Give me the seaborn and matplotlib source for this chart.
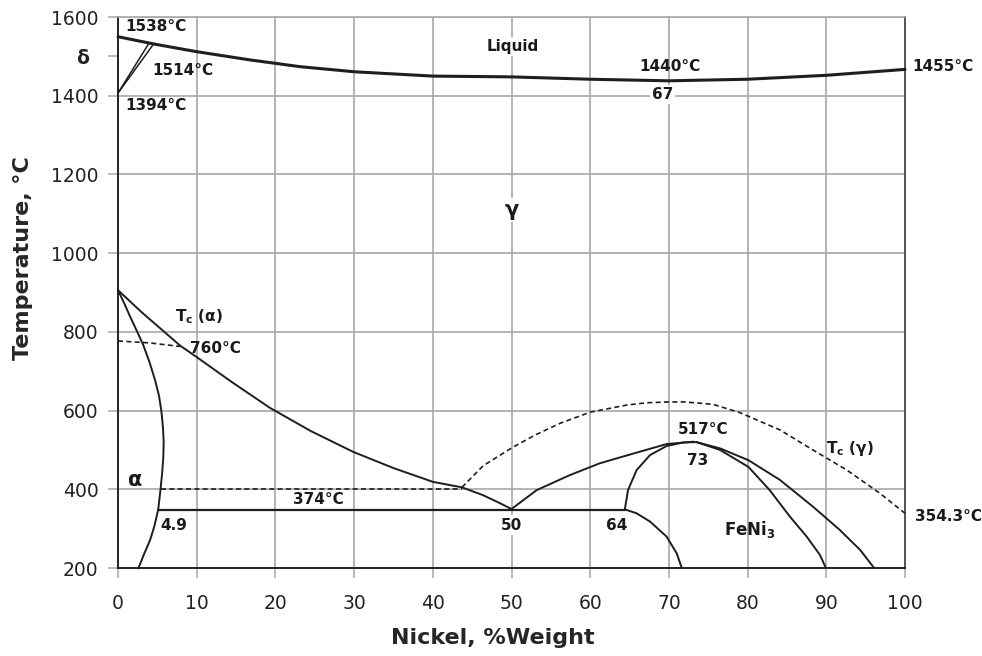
import matplotlib
matplotlib.use("Agg")
import matplotlib.pyplot as plt
import seaborn as sns
import pandas as pd

# ---- data (Ni wt%, temperature °C) ----
liquidus_ni = [0, 4.7, 10, 16.8, 23.1, 30, 40, 50, 60, 70, 80, 90, 100]
liquidus_t = [1550, 1531, 1512, 1491, 1474, 1461, 1450, 1448, 1442, 1438, 1442, 1452, 1467]

delta1_ni = [0, 3.85]
delta1_t = [1407, 1531]
delta2_ni = [0, 4.5]
delta2_t = [1407, 1531]

gamma_solvus_ni = [0, 3.0, 7.9, 10, 14.5, 19.3, 24.5, 29.9, 35, 40, 43.7, 46.4, 48.5, 50]
gamma_solvus_t = [906, 850, 765, 736, 672, 607, 548, 495, 454, 419, 405, 385, 365, 350]

alpha_solvus_ni = [0, 0.8, 1.6, 2.4, 3.2, 4.0, 4.7, 5.2, 5.5, 5.7, 5.8, 5.75, 5.6, 5.4, 5.1, 4.6, 4.07, 3.3, 2.58]
alpha_solvus_t = [906, 872, 836, 802, 767, 723, 678, 638, 600, 560, 520, 480, 440, 400, 348, 305, 271, 235, 199]

tc_alpha_ni = [0, 4, 7.9]
tc_alpha_t = [777, 772, 763]

dash400_ni = [5.5, 43.7]
dash400_t = [402, 402]

tc_gamma_ni = [43.7, 46.4, 50, 53, 56.2, 60, 64.6, 67.2, 70, 72, 75.6, 79, 84.1, 88.3, 92.6, 96.8, 100]
tc_gamma_t = [405, 460, 505, 538, 568, 596, 614, 620, 622, 622, 616, 595, 551, 500, 449, 390, 339]

eutectoid_ni = [5.1, 64.4]
eutectoid_t = [348, 348]

gamma_feni3_ni = [50, 53.2, 57.4, 61.2, 65.5, 69.7, 73.1]
gamma_feni3_t = [350, 398, 436, 466, 491, 515, 521]

feni3_left_ni = [64.4, 64.8, 65.9, 67.6, 69.7, 71.8, 73.5]
feni3_left_t = [349, 398, 449, 487, 510, 519, 520]

feni3_low_ni = [64.4, 65.9, 67.6, 69.7, 71.0, 71.6]
feni3_low_t = [349, 339, 318, 280, 237, 202]

feni3_inner_ni = [73.5, 76.5, 80.1, 82.8, 85.4, 87.5, 89.2, 89.9]
feni3_inner_t = [520, 500, 457, 398, 330, 280, 233, 202]

feni3_outer_ni = [73.5, 76.5, 80.1, 84.1, 88.3, 91.7, 94.3, 96.0]
feni3_outer_t = [520, 504, 474, 424, 356, 297, 246, 202]

x_ticks = list(range(0, 101, 10))
y_ticks = list(range(200, 1601, 200))

sns.set_theme(style="white")
plt.rcParams['font.family'] = ['DejaVu Sans']
plt.rcParams['mathtext.fontset'] = 'dejavusans'

fig = plt.figure(figsize=(9.82, 6.56), dpi=100)
ax = fig.add_axes([0.1202, 0.1341, 0.8014, 0.8399])

LC = '#1e1e1e'
GC = '#a8a8a8'


def curve(xs, ys, lw=1.4, dashed=False):
    df = pd.DataFrame({'ni': xs, 't': ys})
    line = sns.lineplot(data=df, x='ni', y='t', sort=False, estimator=None,
                        color=LC, lw=lw, ax=ax, zorder=3)
    if dashed:
        line.lines[-1].set_dashes((3, 2))
    line.lines[-1].set_clip_on(False)


curve(liquidus_ni, liquidus_t, lw=2.2)
curve(delta1_ni, delta1_t, lw=1.1)
curve(delta2_ni, delta2_t, lw=1.1)
curve(gamma_solvus_ni, gamma_solvus_t)
curve(alpha_solvus_ni, alpha_solvus_t)
curve(tc_alpha_ni, tc_alpha_t, lw=1.2, dashed=True)
curve(dash400_ni, dash400_t, lw=1.2, dashed=True)
curve(tc_gamma_ni, tc_gamma_t, lw=1.2, dashed=True)
curve(eutectoid_ni, eutectoid_t, lw=1.6)
curve(gamma_feni3_ni, gamma_feni3_t)
curve(feni3_left_ni, feni3_left_t)
curve(feni3_low_ni, feni3_low_t)
curve(feni3_inner_ni, feni3_inner_t)
curve(feni3_outer_ni, feni3_outer_t)

ax.set_xlim(0, 100)
ax.set_ylim(200, 1600)
ax.set_xticks(x_ticks)
ax.set_yticks(y_ticks)
ax.set_yticks([1500], minor=True)
ax.set_yticklabels(['δ'], minor=True, fontweight='bold', fontsize=15)
ax.tick_params(axis='both', which='both', direction='out', length=7, width=1.1,
               color=GC, labelsize=13.5, labelcolor='#222222', left=True, bottom=True)
ax.tick_params(axis='x', pad=12)
ax.tick_params(axis='y', which='major', pad=7)
ax.tick_params(axis='y', which='minor', pad=14)
ax.grid(True, which='major', color=GC, lw=1.2)
ax.set_axisbelow(True)

for side in ['left', 'bottom']:
    ax.spines[side].set_color('#222222')
    ax.spines[side].set_linewidth(1.4)
ax.spines['right'].set_color('#555555')
ax.spines['right'].set_linewidth(1.4)
ax.spines['top'].set_color(GC)
ax.spines['top'].set_linewidth(1.2)

ax.set_xlabel('Nickel, %Weight', fontsize=16, fontweight='bold')
ax.set_ylabel('Temperature, °C', fontsize=16, fontweight='bold')
ax.xaxis.set_label_coords(0.476, -0.108)
ax.yaxis.set_label_coords(-0.108, 0.5626)

fs = 11
box = dict(facecolor='white', edgecolor='none', pad=1.5)


def lab(x, y, s, ha='left', bg=False, size=fs):
    ax.text(x, y, s, ha=ha, va='center', fontsize=size, fontweight='bold', color='#1a1a1a',
            bbox=box if bg else None, zorder=4, clip_on=False)


lab(0.9, 1575, '1538°C')
lab(4.3, 1465, '1514°C')
lab(0.9, 1376, '1394°C')
lab(50.2, 1526, 'Liquid', ha='center', bg=True)
lab(70.1, 1475, '1440°C', ha='center')
lab(69.2, 1404, '67', ha='center', bg=True)
lab(100.9, 1475, '1455°C')
lab(50, 1110, 'γ', ha='center', bg=True, size=15)
lab(7.2, 838, r'$\mathbf{T}_{\mathbf{c}}$ (α)')
lab(9.1, 759, '760°C')
lab(2.2, 424, 'α', ha='center', size=15)
lab(25.5, 375, '374°C', ha='center')
lab(7.1, 309, '4.9', ha='center')
lab(50, 309, '50', ha='center', bg=True)
lab(63.4, 309, '64', ha='center')
lab(74.4, 552, '517°C', ha='center')
lab(73.6, 472, '73', ha='center')
lab(80.3, 297, r'FeNi$_{\mathbf{3}}$', ha='center', size=12)
lab(93, 504, r'$\mathbf{T}_{\mathbf{c}}$ (γ)', ha='center')
lab(101.3, 330, '354.3°C')

fig.savefig('out.png', dpi=100)
